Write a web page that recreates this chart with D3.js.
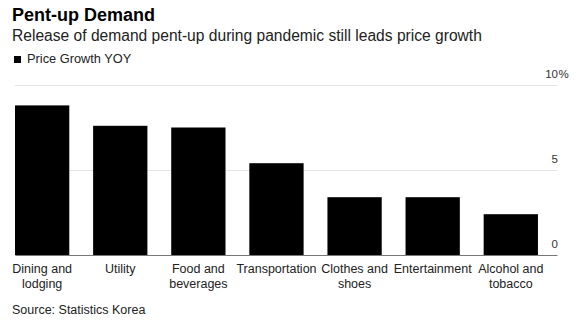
<!DOCTYPE html>
<html>
<head>
<meta charset="utf-8">
<script src="https://cdn.jsdelivr.net/npm/d3@7"></script>
<style>
  body { margin: 0; background: #fff; }
  svg { font-family: "Liberation Sans", Arial, sans-serif; }
</style>
</head>
<body>
<svg></svg>
<script>
const WIDTH = 581;
const HEIGHT = 323;
const MARGINS = { left: 15, top: 85, right: 24, bottom: 68 };
const graphWidth = WIDTH - MARGINS.left - MARGINS.right;
const graphHeight = HEIGHT - MARGINS.top - MARGINS.bottom;

const categories = ['Dining and lodging', 'Utility', 'Food and beverages', 'Transportation',
  'Clothes and shoes', 'Entertainment', 'Alcohol and tobacco'];
const growth = [8.8, 7.6, 7.5, 5.4, 3.4, 3.4, 2.4];
const yTicks = [0, 5, 10];

const svg = d3.select('svg').attr('width', WIDTH).attr('height', HEIGHT);

svg.append('text').attr('x', 12).attr('y', 21)
  .attr('font-size', 18).attr('font-weight', 'bold').attr('fill', '#000')
  .text('Pent-up Demand');
svg.append('text').attr('x', 12).attr('y', 41)
  .attr('font-size', 15.6).attr('fill', '#222')
  .text('Release of demand pent-up during pandemic still leads price growth');
svg.append('rect').attr('x', 14).attr('y', 56).attr('width', 7).attr('height', 7).attr('fill', '#000');
svg.append('text').attr('x', 27).attr('y', 63)
  .attr('font-size', 12.8).attr('fill', '#222')
  .text('Price Growth YOY');
svg.append('text').attr('x', 12).attr('y', 314)
  .attr('font-size', 12.5).attr('fill', '#222')
  .text('Source: Statistics Korea');

const graph = svg.append('g')
  .attr('transform', `translate(${MARGINS.left}, ${MARGINS.top})`);

const x = d3.scaleBand()
  .domain(categories)
  .range([0, graphWidth])
  .paddingInner(0.305)
  .paddingOuter(0.122)
  .align(0);
const y = d3.scaleLinear().domain([0, 10]).range([graphHeight, 0]);

// gridlines + right-side labels
const yAxis = d3.axisLeft(y).tickValues(yTicks).tickSize(graphWidth).tickFormat(d3.format('d'));
const yAxisGroup = graph.append('g')
  .attr('transform', `translate(${graphWidth}, 0)`)
  .call(yAxis);
yAxisGroup.select('.domain').remove();
yAxisGroup.selectAll('.tick line').attr('stroke', '#e3e3e3');
yAxisGroup.selectAll('.tick text')
  .attr('x', 1).attr('dy', -7.5)
  .attr('text-anchor', 'end')
  .attr('font-size', 11.5).attr('fill', '#333')
  .attr('font-family', '"Liberation Sans", Arial, sans-serif');
yAxisGroup.selectAll('.tick').filter((d) => d === 10)
  .append('text')
  .attr('x', 1.5).attr('dy', -7.5)
  .attr('text-anchor', 'start')
  .attr('font-size', 11.5).attr('fill', '#333')
  .text('%');

graph.selectAll('rect.bar')
  .data(growth)
  .enter()
  .append('rect')
  .attr('class', 'bar')
  .attr('x', (d, i) => x(categories[i]))
  .attr('y', (d) => y(d))
  .attr('width', x.bandwidth())
  .attr('height', (d) => graphHeight - y(d))
  .attr('fill', '#000');

const xAxis = d3.axisBottom(x).tickSize(0).tickPadding(0);
const xAxisGroup = graph.append('g')
  .attr('transform', `translate(0, ${graphHeight})`)
  .call(xAxis);
xAxisGroup.select('.domain').attr('stroke', '#777');
xAxisGroup.selectAll('.tick text').each(function (d) {
  const t = d3.select(this).text('')
    .attr('y', 0).attr('dy', null)
    .attr('font-size', 12.5).attr('fill', '#222')
    .attr('font-family', '"Liberation Sans", Arial, sans-serif');
  const idx = d.indexOf(' and ');
  const lines = idx >= 0 ? [d.slice(0, idx + 4), d.slice(idx + 5)] : [d];
  lines.forEach((line, i) => {
    t.append('tspan').attr('x', 0).attr('y', 18 + i * 15).text(line);
  });
});
</script>
</body>
</html>
